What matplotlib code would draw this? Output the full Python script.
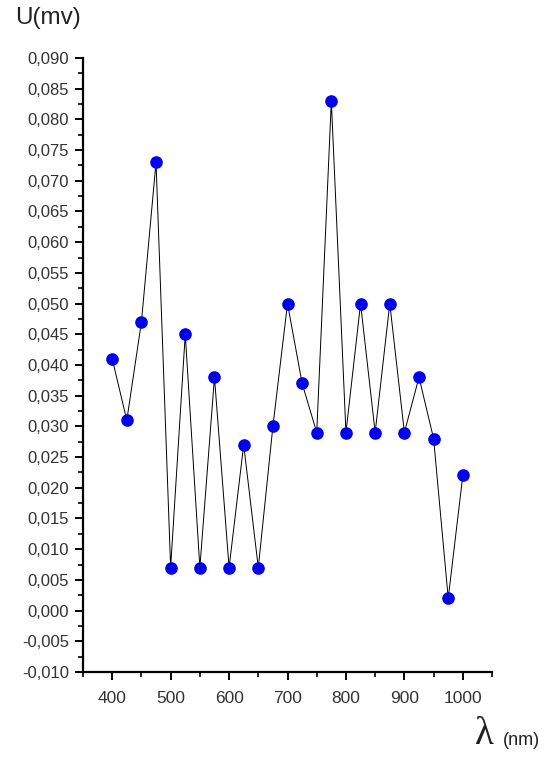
import matplotlib.pyplot as plt
from matplotlib.ticker import MultipleLocator, FuncFormatter

plt.rcParams['font.family'] = ['Liberation Sans', 'DejaVu Sans']

wavelength = [400, 425, 450, 475, 500, 525, 550, 575, 600, 625, 650, 675, 700,
              725, 750, 775, 800, 825, 850, 875, 900, 925, 950, 975, 1000]
voltage = [0.041, 0.031, 0.047, 0.073, 0.007, 0.045, 0.007, 0.038, 0.007, 0.027,
           0.007, 0.030, 0.050, 0.037, 0.029, 0.083, 0.029, 0.050, 0.029, 0.050,
           0.029, 0.038, 0.028, 0.002, 0.022]

fig = plt.figure(figsize=(5.51, 7.58), dpi=100)
ax = fig.add_axes([0.1506, 0.1135, 0.7424, 0.81])

ax.plot(wavelength, voltage, color='black', linewidth=0.7, zorder=1)
ax.scatter(wavelength, voltage, s=65, color='#0000ee', zorder=2)

ax.set_xlim(350, 1050)
ax.set_ylim(-0.010, 0.090)
ax.xaxis.set_major_locator(MultipleLocator(100))
ax.xaxis.set_minor_locator(MultipleLocator(50))
ax.yaxis.set_major_locator(MultipleLocator(0.005))
ax.yaxis.set_minor_locator(MultipleLocator(0.0025))
ax.yaxis.set_major_formatter(FuncFormatter(lambda v, p: f"{v:.3f}".replace('.', ',').replace('-0,000', '0,000')))

for s in ['top', 'right']:
    ax.spines[s].set_visible(False)
for s in ['left', 'bottom']:
    ax.spines[s].set_linewidth(1.6)
ax.tick_params(which='major', direction='out', length=6, width=1.4, labelsize=12, labelcolor='#333333')
ax.tick_params(which='minor', direction='out', length=3.5, width=1.2)
ax.tick_params(axis='x', pad=8, labelsize=12.5)
ax.tick_params(axis='y', pad=4)

fig.text(0.027, 0.976, 'U(mv)', fontsize=17.5, va='center', ha='left', color='#222222')
fig.text(0.862, 0.006, 'λ', fontsize=28, va='bottom', ha='left',
         family=['Liberation Serif', 'DejaVu Serif'], color='#222222')
fig.text(0.912, 0.012, '(nm)', fontsize=13, va='bottom', ha='left', color='#222222')

fig.savefig('out.png', dpi=100)
plt.close(fig)
